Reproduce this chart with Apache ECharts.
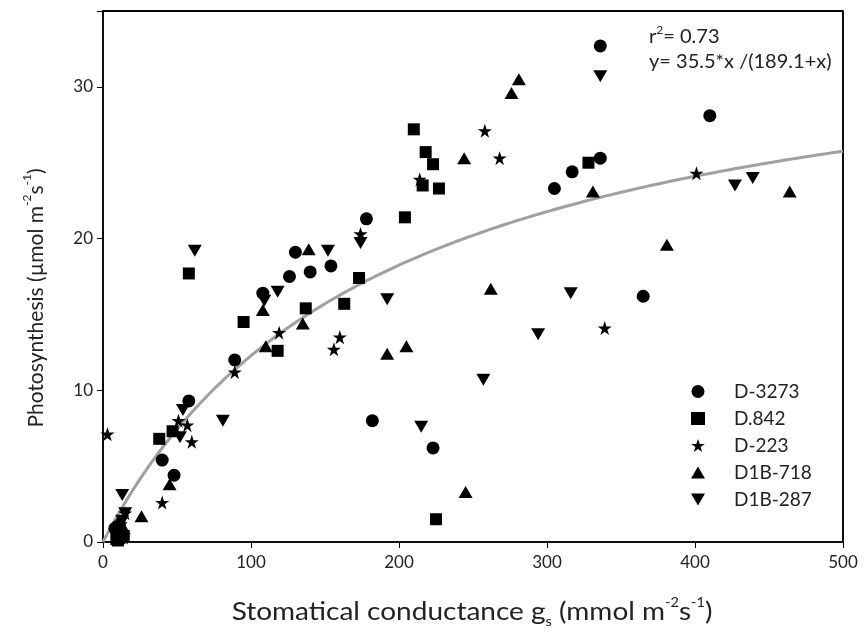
<!DOCTYPE html>
<html>
<head>
<meta charset="utf-8">
<script src="https://cdn.jsdelivr.net/npm/echarts@6/dist/echarts.min.js"></script>
<style>
  html, body { margin: 0; padding: 0; background: #fff; }
  #chart { width: 864px; height: 644px; }
</style>
</head>
<body>
<div id="chart"></div>
<script>
// measured points [gs, photosynthesis] per genotype
var d3273 = [[336, 32.7], [410, 28.1], [336, 25.3], [317, 24.4], [305, 23.3], [365, 16.2],
  [223, 6.2], [182, 8.0], [178, 21.3], [154, 18.2], [140, 17.8], [130, 19.1], [126, 17.5],
  [108, 16.4], [89, 12.0], [58, 9.3], [40, 5.4], [48, 4.4], [10, 0.5], [12, 0.2], [8, 0.9]];
var d842 = [[210, 27.2], [218, 25.7], [223, 24.9], [216, 23.5], [227, 23.3], [204, 21.4],
  [328, 25.0], [225, 1.5], [58, 17.7], [173, 17.4], [163, 15.7], [137, 15.4], [95, 14.5],
  [118, 12.6], [38, 6.8], [47, 7.3], [10, 0.1], [14, 0.4], [11, 1.0], [9, 0.2]];
var d223 = [[3, 7.1], [51, 8.0], [57, 7.7], [60, 6.6], [40, 2.6], [89, 11.2], [119, 13.8],
  [160, 13.5], [156, 12.7], [174, 20.3], [258, 27.1], [268, 25.3], [214, 23.9], [401, 24.3],
  [339, 14.1], [15, 1.9], [12, 1.2], [9, 0.6], [14, 0.3]];
var d718 = [[281, 30.5], [276, 29.6], [244, 25.3], [331, 23.1], [262, 16.7], [464, 23.1],
  [381, 19.6], [205, 12.9], [192, 12.4], [245, 3.3], [139, 19.3], [108, 15.3], [135, 14.4],
  [110, 12.9], [45, 3.8], [26, 1.7], [12, 0.4], [10, 1.3], [14, 0.9]];
var d287 = [[336, 30.7], [427, 23.5], [439, 24.0], [316, 16.4], [294, 13.7], [257, 10.7],
  [215, 7.6], [192, 16.0], [118, 16.5], [81, 8.0], [62, 19.2], [152, 19.2], [174, 19.7],
  [109, 15.9], [54, 8.7], [52, 6.9], [13, 3.1], [15, 1.9], [11, 0.8], [13, 1.4]];

var seriesNames = ['D-3273', 'D.842', 'D-223', 'D1B-718', 'D1B-287'];
var xTicks = [0, 100, 200, 300, 400, 500];
var yTicks = [0, 10, 20, 30];
var xMax = 500;
var yMax = 35;

// fitted curve y = a*x/(b+x), parameters as printed on the chart
var fitA = 35.5;
var fitB = 189.1;
var fitR2 = 0.73;

var fitLine = [];
for (var x = 0; x <= xMax; x += 5) {
  fitLine.push([x, fitA * x / (fitB + x)]);
}

var starPath = 'path://M5,0L6.18,3.45L9.76,3.45L6.79,5.59L7.94,9.05L5,6.91L2.06,9.05L3.21,5.59L0.24,3.45L3.82,3.45Z';
var downTri = 'path://M0,0L10,0L5,8.66Z';
var upTri = 'path://M5,0L10,8.66L0,8.66Z';

var font = 'Lato, "Open Sans", sans-serif';
var ink = '#222';

// plot box
var W = 864, H = 644;
var gridL = 103, gridR = 21, gridT = 11, gridB = 102;

function pts(name, data, symbol, size) {
  return {
    name: name,
    type: 'scatter',
    data: data,
    symbol: symbol,
    symbolSize: size,
    itemStyle: { color: '#000', opacity: 1 },
    z: 3
  };
}

var chart = echarts.init(document.getElementById('chart'));
chart.setOption({
  animation: false,
  grid: { left: gridL, right: gridR, top: gridT, bottom: gridB, show: true, borderColor: '#000', borderWidth: 1.6 },
  legend: {
    data: seriesNames,
    orient: 'vertical',
    left: 686,
    top: 377,
    itemWidth: 14,
    itemHeight: 13,
    itemGap: 8,
    textStyle: { fontFamily: font, fontSize: 19, color: ink, padding: [0, 0, 0, 24] }
  },
  xAxis: {
    type: 'value',
    min: 0, max: xMax, interval: 100,
    axisLine: { onZero: false, lineStyle: { color: '#000', width: 1.5 } },
    axisTick: { show: true, length: 6, lineStyle: { color: '#000' } },
    axisLabel: {
      fontFamily: font, fontSize: 17, color: ink, margin: 12,
      formatter: function (v) { return xTicks.indexOf(v) >= 0 ? String(v) : ''; }
    },
    splitLine: { show: false }
  },
  yAxis: {
    type: 'value',
    min: 0, max: yMax, interval: 10,
    axisLine: { onZero: false, lineStyle: { color: '#000', width: 1.5 } },
    axisTick: { show: true, length: 6, lineStyle: { color: '#000' } },
    axisLabel: {
      fontFamily: font, fontSize: 17, color: ink, margin: 10,
      formatter: function (v) { return yTicks.indexOf(v) >= 0 ? String(v) : ''; }
    },
    splitLine: { show: false }
  },
  graphic: [{
    // top side of the box
    type: 'line',
    shape: { x1: gridL, y1: gridT, x2: W - gridR, y2: gridT },
    style: { stroke: '#000', lineWidth: 2 }
  }, {
    // right side of the box
    type: 'line',
    shape: { x1: W - gridR, y1: gridT, x2: W - gridR, y2: H - gridB },
    style: { stroke: '#000', lineWidth: 1.5 }
  }, {
    type: 'text',
    left: 649,
    top: 24,
    style: {
      text: 'r{sup|2}= ' + fitR2.toFixed(2) + '\ny= ' + fitA + '*x /(' + fitB + '+x)',
      fontFamily: font, fontSize: 20, fill: ink, lineHeight: 25,
      rich: {
        sup: { fontFamily: font, fontSize: 12, fill: ink, verticalAlign: 'top', lineHeight: 25 }
      }
    }
  }, {
    // x axis title
    type: 'text',
    x: 472, y: 612,
    scaleX: 1.12,
    style: {
      text: 'Stomatical conductance g{sub|s} (mmol m{sup|-2}s{sup|-1})',
      fontFamily: font, fontSize: 25, fill: ink, lineHeight: 32,
      align: 'center', verticalAlign: 'middle',
      rich: {
        sub: { fontFamily: font, fontSize: 13, fill: ink, verticalAlign: 'bottom', lineHeight: 30 },
        sup: { fontFamily: font, fontSize: 13, fill: ink, verticalAlign: 'top', lineHeight: 32 }
      }
    }
  }, {
    // y axis title
    type: 'text',
    x: 36, y: 298,
    rotation: Math.PI / 2,
    style: {
      text: 'Photosynthesis (\u00b5mol m{sup|-2}s{sup|-1})',
      fontFamily: font, fontSize: 21, fill: ink, lineHeight: 30,
      align: 'center', verticalAlign: 'middle',
      rich: {
        sup: { fontFamily: font, fontSize: 12, fill: ink, verticalAlign: 'top', lineHeight: 30 }
      }
    }
  }],
  series: [
    {
      type: 'line',
      data: fitLine,
      showSymbol: false,
      smooth: true,
      silent: true,
      lineStyle: { color: '#a0a0a0', width: 3 },
      z: 2
    },
    pts('D-3273', d3273, 'circle', 13),
    pts('D.842', d842, 'rect', 12),
    pts('D-223', d223, starPath, 14),
    pts('D1B-718', d718, upTri, [14, 12]),
    pts('D1B-287', d287, downTri, [14, 12])
  ]
});
</script>
</body>
</html>
